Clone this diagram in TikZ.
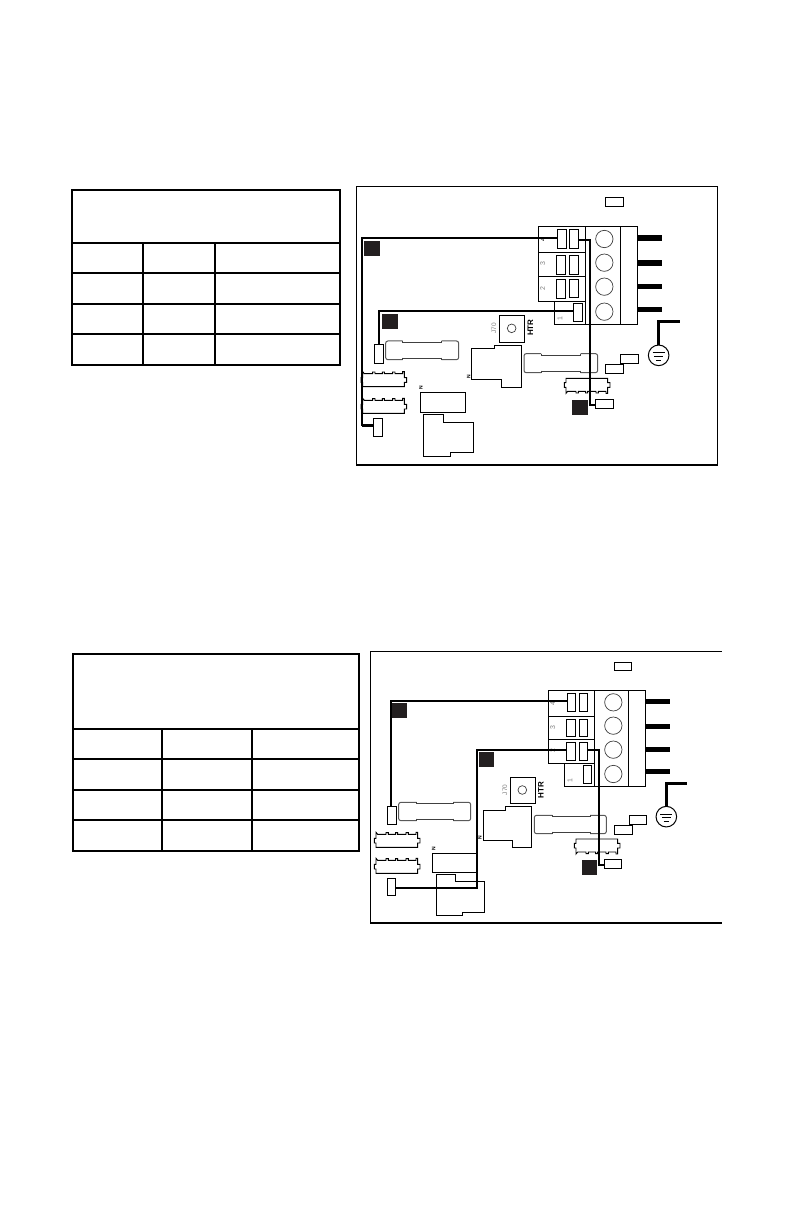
\documentclass[tikz,border=0pt]{standalone}
\usepackage{fontspec}
\setmainfont{Liberation Sans}
\definecolor{sqk}{HTML}{231F20}
\tikzset{
  thinbox/.style={draw=black,line width=0.95bp,inner sep=0pt,outer sep=0pt},
  wire/.style={draw=black,line width=2bp,line join=miter},
  heavypin/.style={draw=black,line width=5.4bp},
  sqmark/.style={fill=sqk,draw=none,inner sep=0pt,outer sep=0pt},
  termcirc/.style={circle,draw=black!75,line width=0.7bp,inner sep=0pt,outer sep=0pt},
  part/.style={draw=black,line width=0.95bp,line join=miter},
  fuseline/.style={draw=black!65,line width=1bp,rounded corners=2.2bp},
  tinytxt/.style={inner sep=0pt,rotate=90,font=\fontsize{6.5}{6.5}\selectfont},
  termnum/.style={inner sep=0pt,rotate=90,text=black!50,font=\fontsize{7}{7}\selectfont},
  tablerule/.style={draw=black,line width=1.9bp,line cap=rect},
  framethin/.style={draw=black,line width=0.9bp},
  framethick/.style={draw=black,line width=2bp},
}
% \bx[style]{name}{x1}{y1}{x2}{y2}, all in the scope's units (zoom thirds)
\newcommand{\bx}[6][thinbox]{%
  \pgfmathsetmacro{\mycx}{(#3+#5)/2}\pgfmathsetmacro{\mycy}{(#4+#6)/2}%
  \pgfmathsetmacro{\myw}{(#5-#3)/3}\pgfmathsetmacro{\myh}{(#6-#4)/3}%
  \node[#1,rectangle,minimum width=\myw bp,minimum height=\myh bp] (#2) at (\mycx,\mycy) {};}
\newcommand{\cir}[4]{%
  \pgfmathsetmacro{\myd}{2*#4/3}%
  \node[termcirc,minimum size=\myd bp] (#1) at (#2,#3) {};}
% \stripshape: connector strip, origin top-left of the body
\newcommand{\stripshape}{%
  \draw[part,fill=white] (0,0)--(5,6)--(30,6)--(30,1)--(37,1)--(37,6)--(59,6)--(59,1)--(65,1)--(65,6)--(90,6)--(90,1)--(97,1)--(97,6)--(120,6)--(120,0)--(125,0)--(125,18)--(132,18)--(132,32)--(125,32)--(125,45)--(0,45)--(0,32)--(-5,32)--(-5,18)--(0,18)--cycle;}
\newcommand{\fuse}[6]{%
  \draw[fuseline] (#2,#5)--(#1,#5)--(#1,#6)--(#2,#6);
  \draw[fuseline] (#3,#5)--(#4,#5)--(#4,#6)--(#3,#6);
  \draw[part,draw=black!75] (#2,#5+4)--(#3,#5+4) (#2,#6-3)--(#3,#6-3)
    (#2,#5)--(#2,#5+6) (#2,#6-6)--(#2,#6) (#3,#5)--(#3,#5+6) (#3,#6-6)--(#3,#6);}
\begin{document}
\begin{tikzpicture}[x=1bp,y=-1bp]
\useasboundingbox (0,0) rectangle (792,1224);
\fill[white] (0,0) rectangle (792,1224);

% ---------- tables
\draw[tablerule] (72,190) rectangle (340,365);
\draw[tablerule] (72,242.7)--(340,242.7) (72,272.7)--(340,272.7) (72,304)--(340,304) (72,334)--(340,334);
\draw[tablerule] (142.7,242.7)--(142.7,365) (215,242.7)--(215,365);

\draw[tablerule] (73,654)--(359,654)--(359,851)--(73,851)--cycle;
\draw[tablerule] (73,728.7)--(359,728.7) (73,758.7)--(359,758.7) (73,790)--(359,790) (73,819.7)--(359,819.7);
\draw[tablerule] (161.7,728.7)--(161.7,851) (252,728.7)--(252,851);

% ---------- panel 1 frame
\draw[framethin] (356.5,465)--(356.5,186.3)--(717.6,186.3)--(717.6,465);
\draw[framethick] (356,465)--(718.2,465);

% ---------- panel 1, left part
\begin{scope}[shift={(350,180)},x=0.33333bp,y=-0.33333bp]
  \bx{a1conA}{73}{493}{101}{550}
  \bx{a1conB}{70}{715}{98}{769}
  \fuse{107}{158}{275}{326}{483}{539}
  \begin{scope}[shift={(38,575)}]\stripshape\end{scope}
  \begin{scope}[shift={(38,655)}]\stripshape\end{scope}
  \bx{a1boxM}{211}{637}{347}{697}
  \draw[part] (220,703)--(280,703)--(280,727)--(371,727)--(371,818)--(302,818)--(302,830)--(220,830)--cycle;
  \draw[part] (364,505)--(433,505)--(433,495)--(515,495)--(515,622)--(455,622)--(455,598)--(364,598)--cycle;
  \bx{a1htr}{448}{406}{524}{487}
  \cir{a1htrc}{485}{445}{13}
  \node[tinytxt,text=black!50] (a1j70) at (432,445) {J70};
  \node[tinytxt,font=\bfseries\fontsize{8}{8}\selectfont] (a1htrt) at (541,443) {HTR};
  \node[tinytxt,font=\bfseries\fontsize{5}{5}\selectfont] (a1n1) at (356,590) {N};
  \node[tinytxt,font=\bfseries\fontsize{5}{5}\selectfont] (a1n2) at (213,624) {N};
  \bx[sqmark]{a1sqA}{42}{183}{90}{228}
  \bx[sqmark]{a1sqB}{96}{402}{144}{447}
\end{scope}

% ---------- panel 1, right part
\begin{scope}[shift={(530,180)},x=0.33333bp,y=-0.33333bp]
  \bx{a1r4}{25}{139}{166}{217}
  \bx{a1r3}{25}{217}{166}{289}
  \bx{a1r2}{25}{289}{166}{364}
  \bx{a1r1}{73}{364}{166}{433}
  \bx{a1mid}{166}{139}{272}{433}
  \bx{a1end}{272}{139}{322}{433}
  \bx{a1p4a}{81}{148}{109}{205}\bx{a1p4b}{118}{148}{146}{205}
  \bx{a1p3a}{79}{226}{107}{283}\bx{a1p3b}{118}{226}{146}{283}
  \bx{a1p2a}{79}{298}{107}{355}\bx{a1p2b}{118}{298}{146}{352}
  \bx{a1p1}{130}{370}{158}{425}
  \cir{a1c4}{223}{177}{26}\cir{a1c3}{223}{248}{26}\cir{a1c2}{223}{320}{26}\cir{a1c1}{223}{395}{26}
  \node[termnum,text=black] (a1n4) at (38,180) {4};
  \node[termnum] (a1n3) at (38,252) {3};
  \node[termnum] (a1nb) at (38,325) {2};
  \node[termnum] (a1na) at (90,415) {1};
  \coordinate (a1e4) at (396,174);\coordinate (a1e3) at (396,249);
  \coordinate (a1e2) at (396,319);\coordinate (a1e1) at (396,388);
  \draw[heavypin] (a1end.east |- a1e4)--(a1e4);
  \draw[heavypin] (a1end.east |- a1e3)--(a1e3);
  \draw[heavypin] (a1end.east |- a1e2)--(a1e2);
  \draw[heavypin] (a1end.east |- a1e1)--(a1e1);
  \bx{a1lblT}{226}{52}{281}{79}
  \bx{a1lblA}{271}{523}{326}{551}
  \bx{a1lblB}{226}{552}{281}{581}
  \bx{a1lblC}{196}{658}{251}{686}
  \fuse{-18}{33}{152}{203}{521}{578}
  \begin{scope}[shift={(108,640)},yscale=-1]\stripshape\end{scope}
  \bx[sqmark]{a1sqC}{126}{660}{174}{705}
  \node[circle,draw=black,line width=1bp,minimum size=20.6bp,inner sep=0pt,outer sep=0pt] (a1gnd) at (386,526) {};
  \coordinate (a1gc) at (385,424);\coordinate (a1ge) at (450,424);
  \draw[wire,line width=2.6bp] (a1gnd.north -| a1gc)--(a1gc)--(a1ge);
  \draw[draw=black,line width=1bp] (368,519)--(404,519) (373,530)--(399,530);
  \draw[draw=black,line width=1.5bp] (379,541)--(393,541);
  % wires
  \coordinate (a1w3t) at (180,179);\coordinate (a1w3b) at (180,675);
  \draw[wire] (a1p4b.east |- a1w3t)--(a1w3t)--(a1w3b)--(a1lblC.west |- a1w3b);
\end{scope}
\coordinate (a1w1t) at (362,237.7);
\coordinate (a1w1b) at (362,425.7);
\coordinate (a1w2t) at (378.7,311);
\draw[wire,line width=2.1bp] (a1p4a.west |- a1w1t)--(a1w1t)--(a1w1b);
\draw[wire,line width=2.8bp] (a1w1b)--(a1conB.west |- a1w1b);
\draw[wire] (a1p1.west |- a1w2t)--(a1w2t)--(a1conA.north -| a1w2t);

% ---------- panel 2 frame
\draw[framethin] (370.7,923)--(370.7,651.3)--(722,651.3);
\draw[framethick] (370.2,923)--(722,923);

% ---------- panel 2, left part
\begin{scope}[shift={(365,645)},x=0.33333bp,y=-0.33333bp]
  \bx{b1conA}{67}{484}{95}{538}
  \bx{b1conB}{67}{700}{92}{752}
  \fuse{101}{155}{265}{317}{472}{527}
  \begin{scope}[shift={(33,562)}]\stripshape\end{scope}
  \begin{scope}[shift={(33,640)}]\stripshape\end{scope}
  \bx{b1boxM}{202}{625}{335}{683}
  \draw[part] (214,688)--(272,688)--(272,710)--(359,710)--(359,802)--(292,802)--(292,811)--(214,811)--cycle;
  \draw[part] (355,497)--(421,497)--(421,484)--(499,484)--(499,607)--(442,607)--(442,586)--(355,586)--cycle;
  \bx{b1htr}{436}{397}{512}{476}
  \cir{b1htrc}{472}{435}{13}
  \node[tinytxt,text=black!50] (b1j70) at (420,435) {J70};
  \node[tinytxt,font=\bfseries\fontsize{8}{8}\selectfont] (b1htrt) at (528,435) {HTR};
  \node[tinytxt,font=\bfseries\fontsize{5}{5}\selectfont] (b1n1) at (345,577) {N};
  \node[tinytxt,font=\bfseries\fontsize{5}{5}\selectfont] (b1n2) at (206,610) {N};
  \bx[sqmark]{b1sqA}{80}{174}{126}{219}
  \bx[sqmark]{b1sqB}{342}{321}{387}{366}
\end{scope}

% ---------- panel 2, right part
\begin{scope}[shift={(540,645)},x=0.33333bp,y=-0.33333bp]
  \bx{b1r4}{25}{136}{163}{214}
  \bx{b1r3}{25}{214}{163}{283}
  \bx{b1r2}{25}{283}{163}{356}
  \bx{b1r1}{73}{356}{163}{424}
  \bx{b1mid}{163}{136}{265}{424}
  \bx{b1end}{265}{136}{317}{424}
  \bx{b1p4a}{81}{145}{107}{199}\bx{b1p4b}{118}{145}{143}{199}
  \bx{b1p3a}{79}{223}{107}{275}\bx{b1p3b}{118}{223}{143}{275}
  \bx{b1p2a}{79}{292}{107}{347}\bx{b1p2b}{118}{292}{143}{347}
  \bx{b1p1}{130}{361}{155}{416}
  \cir{b1c4}{220}{172}{26}\cir{b1c3}{220}{242}{26}\cir{b1c2}{220}{314}{26}\cir{b1c1}{220}{387}{26}
  \node[termnum] (b1n4) at (38,177) {4};
  \node[termnum] (b1n3) at (38,247) {3};
  \node[termnum] (b1nb) at (38,318) {2};
  \node[termnum] (b1na) at (90,406) {1};
  \coordinate (b1e4) at (390,169);\coordinate (b1e3) at (390,244);
  \coordinate (b1e2) at (390,313);\coordinate (b1e1) at (390,379);
  \draw[heavypin,line width=5bp] (b1end.east |- b1e4)--(b1e4);
  \draw[heavypin,line width=5bp] (b1end.east |- b1e3)--(b1e3);
  \draw[heavypin,line width=5bp] (b1end.east |- b1e2)--(b1e2);
  \draw[heavypin,line width=5bp] (b1end.east |- b1e1)--(b1e1);
  \bx{b1lblT}{222}{52}{275}{77}
  \bx{b1lblA}{268}{511}{320}{539}
  \bx{b1lblB}{222}{541}{278}{569}
  \bx{b1lblC}{193}{643}{245}{671}
  \fuse{-17}{37}{150}{199}{511}{566}
  \begin{scope}[shift={(108,627)},yscale=-1]\stripshape\end{scope}
  \bx[sqmark]{b1sqC}{126}{645}{171}{690}
  \node[circle,draw=black,line width=1bp,minimum size=20.6bp,inner sep=0pt,outer sep=0pt] (b1gnd) at (379,515) {};
  \coordinate (b1gc) at (379,415);\coordinate (b1ge) at (441,415);
  \draw[wire,line width=2.6bp] (b1gnd.north)--(b1gc)--(b1ge);
  \draw[draw=black,line width=1bp] (361,507)--(397,507) (366,518)--(392,518) (371,530)--(387,530);
  \coordinate (b1w3t) at (177,315);\coordinate (b1w3b) at (177,660);
  \draw[wire] (b1p2b.east |- b1w3t)--(b1w3t)--(b1w3b)--(b1lblC.west |- b1w3b);
\end{scope}
\coordinate (b1w1t) at (391,701);
\coordinate (b1w2c) at (476.7,888);
\coordinate (b1w2t) at (476.7,750);
\draw[wire] (b1p4a.west |- b1w1t)--(b1w1t)--(b1conA.north -| b1w1t);
\draw[wire] (b1p2a.west |- b1w2t)--(b1w2t)--(b1w2c)--(b1conB.east |- b1w2c);
\end{tikzpicture}
\end{document}
